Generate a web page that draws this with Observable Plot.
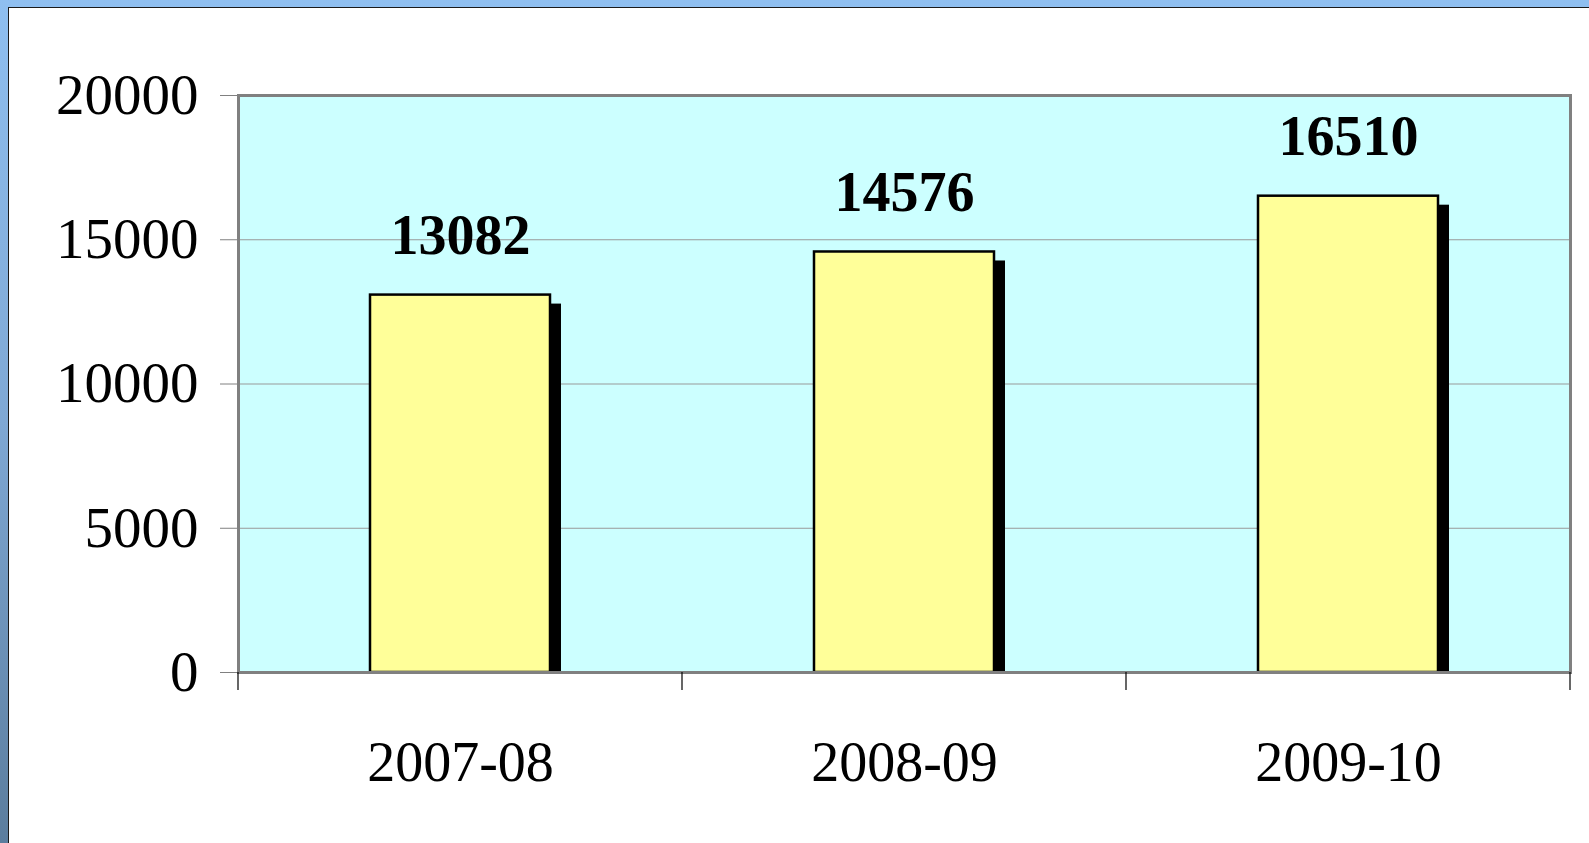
<!DOCTYPE html>
<html>
<head>
<meta charset="utf-8">
<script src="https://cdn.jsdelivr.net/npm/d3@7"></script>
<script src="https://cdn.jsdelivr.net/npm/@observablehq/plot@0.6"></script>
<style>
  html, body { margin: 0; padding: 0; width: 1589px; height: 843px; overflow: hidden; }
  #frame { position: absolute; left: 0; top: 0; width: 1589px; height: 843px;
           background: linear-gradient(to bottom, #8fbff0 0%, #7fa8d4 50%, #5b7d9e 100%); }
  #panel { position: absolute; left: 8px; top: 7px; right: 0; bottom: 0; background: #fff;
           border-left: 1.5px solid #1a1a1a; border-top: 1.5px solid #1a1a1a; }
  #chart { position: absolute; left: 0; top: 0; }
</style>
</head>
<body>
<div id="frame"><div id="panel"></div></div>
<div id="chart"></div>
<script>
const years = ["2007-08", "2008-09", "2009-10"];
const counts = [13082, 14576, 16510];
const yTicks = [0, 5000, 10000, 15000, 20000];
const gridTicks = [5000, 10000, 15000];

const data = years.map((y, i) => ({year: y, value: counts[i]}));

const font = "'Liberation Serif', 'Times New Roman', serif";

// custom mark: category-boundary tick marks below the x axis
function boundaryTicks(index, scales, values, dims) {
  const x = scales.x;
  const bw = x.bandwidth();
  const xs = years.map(c => x(c)).concat([x(years[years.length - 1]) + bw]);
  const g = d3.create("svg:g");
  const y0 = dims.height - dims.marginBottom;
  for (const px of xs) {
    g.append("line").attr("x1", px).attr("x2", px).attr("y1", y0).attr("y2", y0 + 18)
      .attr("stroke", "#000").attr("stroke-width", 1.2);
  }
  return g.node();
}

const chart = Plot.plot({
  width: 1589,
  height: 843,
  marginLeft: 238,
  marginRight: 19,
  marginTop: 95,
  marginBottom: 171,
  style: { background: "transparent", fontFamily: font, overflow: "visible" },
  x: { type: "band", domain: years, paddingInner: 0, paddingOuter: 0, label: null },
  y: { domain: [0, 20000], label: null },
  marks: [
    Plot.frame({ fill: "#ccffff", stroke: null }),
    Plot.ruleY(gridTicks, { stroke: "#999999", strokeWidth: 1 }),
    Plot.barY(data, { x: "year", y: "value", fill: "#000", insetLeft: 132, insetRight: 132,
                      insetBottom: 9, dx: 11, dy: 9 }),
    Plot.barY(data, { x: "year", y: "value", fill: "#ffff99", stroke: "#000", strokeWidth: 2.5,
                      insetLeft: 132, insetRight: 132 }),
    Plot.frame({ stroke: "#808080", strokeWidth: 3 }),
    Plot.axisY({ ticks: yTicks, tickSize: 18, tickPadding: 22, fontSize: 57, stroke: "#808080",
                 tickFormat: d => String(d), color: "#000", label: null }),
    Plot.axisX({ tickSize: 0, tickPadding: 69, fontSize: 56, label: null, color: "#000" }),
    boundaryTicks,
    Plot.text(data, { x: "year", y: "value", text: d => String(d.value), lineAnchor: "bottom",
                      dy: -41, fontSize: 56, fontWeight: "bold", fill: "#000" })
  ]
});
chart.querySelectorAll("text").forEach(t => t.style.fontFamily = font);
document.getElementById("chart").appendChild(chart);
</script>
</body>
</html>
